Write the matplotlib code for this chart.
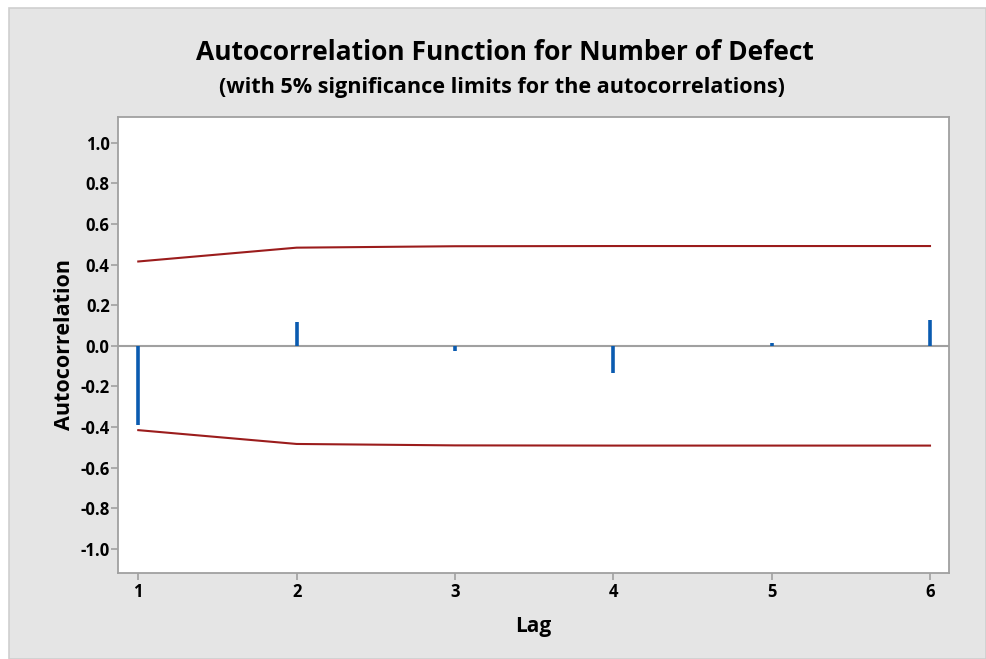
import matplotlib.pyplot as plt
from matplotlib.patches import Rectangle

# datos de autocorrelacion
lags = [1, 2, 3, 4, 5, 6]
acf = [-0.392, 0.117, -0.025, -0.134, 0.016, 0.126]
upper_limit = [0.415, 0.483, 0.490, 0.491, 0.491, 0.491]
lower_limit = [-0.415, -0.483, -0.490, -0.491, -0.491, -0.491]
yticks = [-1.0, -0.8, -0.6, -0.4, -0.2, 0.0, 0.2, 0.4, 0.6, 0.8, 1.0]

plt.rcParams['font.family'] = ['Open Sans', 'DejaVu Sans']

W, H = 986, 659
fig = plt.figure(figsize=(W / 100, H / 100), dpi=100, facecolor='white')

# panel gris de fondo
fig.patches.append(Rectangle((9 / W, 0), 1 - 9 / W, 1 - 8 / H, transform=fig.transFigure,
                             facecolor='#e5e5e5', edgecolor='#cfcfcf', linewidth=1.2, zorder=-10))

ax = fig.add_axes([118 / W, 1 - 573 / H, (949 - 118) / W, (573 - 117) / H])
ax.set_facecolor('white')

ax.axhline(0, color='#a0a0a0', linewidth=1.5, zorder=1)
ax.vlines(lags, 0, acf, color='#0a5bb0', linewidth=2.6, zorder=3)
ax.plot(lags, upper_limit, color='#9b1c1c', linewidth=1.5, zorder=2)
ax.plot(lags, lower_limit, color='#9b1c1c', linewidth=1.5, zorder=2)

ax.set_xlim(0.872, 6.12)
ax.set_ylim(-1.118, 1.126)
ax.set_xticks(lags)
ax.set_yticks(yticks)
ax.set_yticklabels([f'{v:.1f}' for v in yticks])

for s in ax.spines.values():
    s.set_color('#a0a0a0')
    s.set_linewidth(1.3)
ax.tick_params(axis='both', colors='#a0a0a0', labelcolor='black', length=5, width=1.2,
               labelsize=12)
for lab in ax.get_xticklabels() + ax.get_yticklabels():
    lab.set_fontweight('bold')
ax.tick_params(axis='x', pad=2)
ax.tick_params(axis='y', pad=1)

ax.set_xlabel('Lag', fontsize=15, fontweight='bold', labelpad=11)
ax.set_ylabel('Autocorrelation', fontsize=15.5, fontweight='bold', labelpad=4)

fig.text(505 / W, 1 - 52 / H, 'Autocorrelation Function for Number of Defect', ha='center',
         va='center', fontsize=19, fontweight='bold')
fig.text(502 / W, 1 - 87 / H, '(with 5% significance limits for the autocorrelations)', ha='center',
         va='center', fontsize=15.6, fontweight='bold')

fig.savefig('out.png', dpi=100, facecolor=fig.get_facecolor())
